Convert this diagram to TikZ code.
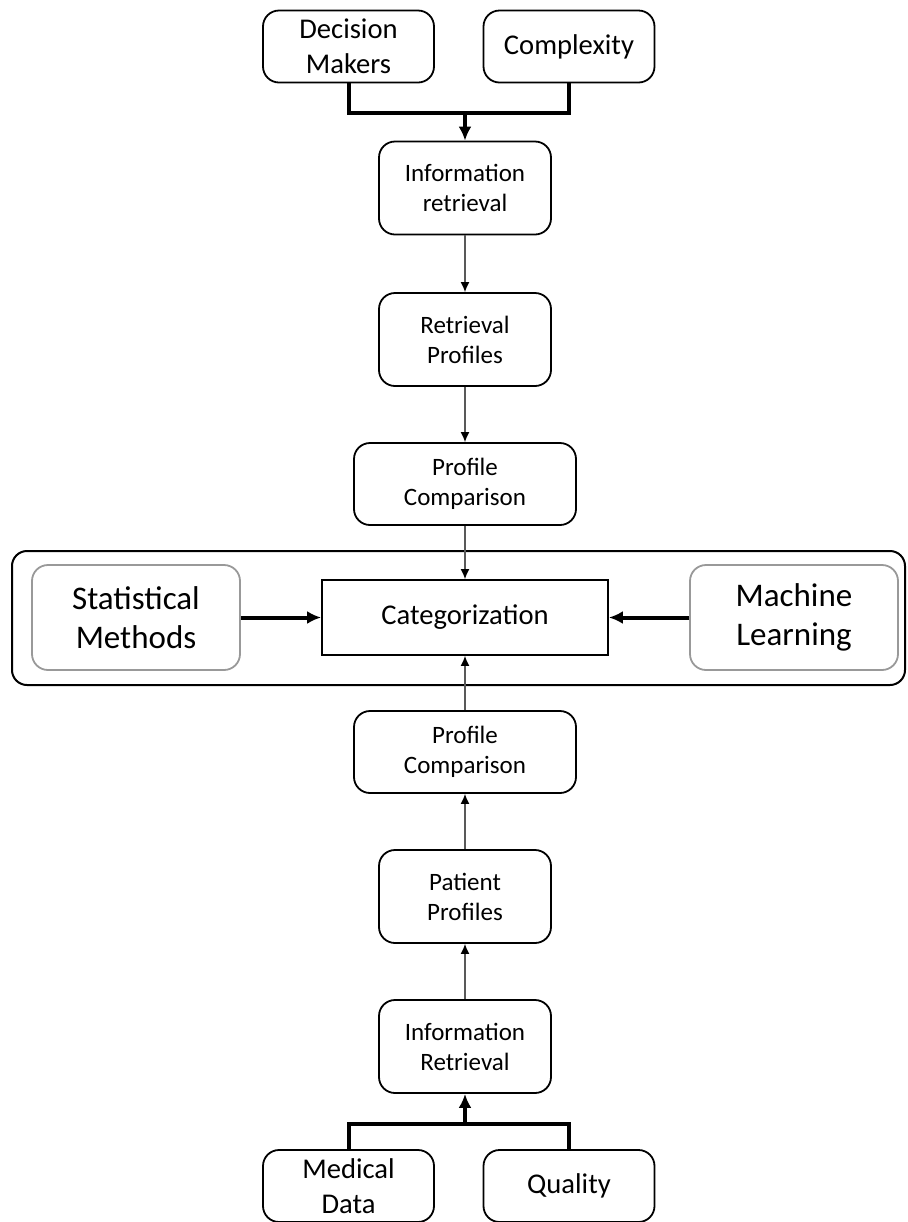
\documentclass[tikz,border=0pt]{standalone}
\usepackage{fontspec}
\setmainfont{Carlito}
\usetikzlibrary{arrows.meta}

\begin{document}
\begin{tikzpicture}[x=0.5pt,y=-0.5pt,
  box/.style={draw,line width=0.9pt,rounded corners=8pt,align=center,inner sep=0pt},
  stagebox/.style={box,minimum width=86pt,minimum height=46.5pt,font=\fontsize{12.5}{15}\selectfont},
  comparebox/.style={box,minimum width=111pt,minimum height=41pt,font=\fontsize{12.5}{15}\selectfont},
  sourcebox/.style={box,minimum width=85.5pt,minimum height=36pt,font=\fontsize{14.3}{17.5}\selectfont},
  methodbox/.style={box,draw=black!40,minimum width=104pt,minimum height=52.5pt,font=\fontsize{16.5}{19.5}\selectfont},
  flow/.style={draw=black!65,line width=0.65pt,-{Latex[length=5pt,width=4.5pt,color=black]}},
  bus/.style={line width=2pt},
  feed/.style={line width=2pt,-{Latex[length=7pt,width=6.5pt]}}]
  \useasboundingbox (0,0) rectangle (908,1222);
  % categorization frame
  \draw[line width=1pt,rounded corners=7.5pt] (12,551) rectangle (905,685);
  % top chain
  \node[sourcebox] (dm) at (348.5,46.5) {Decision\\Makers};
  \node[sourcebox] (cx) at (569,46.5) {Complexity};
  \node[stagebox] (ir1) at (465,188) {Information\\retrieval};
  \node[stagebox] (rp) at (465,339.5) {Retrieval\\Profiles};
  \node[comparebox] (pc1) at (465,484) {Profile\\Comparison};
  % middle row
  \node[methodbox] (sm) at (136,617.5) {Statistical\\Methods};
  \node[draw,line width=0.9pt,minimum width=143pt,minimum height=37.5pt,font=\fontsize{14.3}{17}\selectfont] (cat) at (465,617.5) {Categorization};
  \node[methodbox] (ml) at (794,617.5) {Machine\\Learning};
  % bottom chain
  \node[comparebox] (pc2) at (465,752) {Profile\\Comparison};
  \node[stagebox] (pp) at (465,896.5) {Patient\\Profiles};
  \node[stagebox] (ir2) at (465,1046.5) {Information\\Retrieval};
  \node[sourcebox] (md) at (348.5,1186) {Medical\\Data};
  \node[sourcebox] (q) at (569,1186) {Quality};
  % connectors
  \coordinate (j1) at (465,113);
  \coordinate (j2) at (465,1124);
  \draw[bus] (dm.south) |- (j1) -| (cx.south);
  \draw[feed] (j1) -- (ir1.north);
  \draw[flow] (ir1) -- (rp);
  \draw[flow] (rp) -- (pc1);
  \draw[flow] (pc1) -- (cat);
  \draw[feed] (sm) -- (cat);
  \draw[feed] (ml) -- (cat);
  \draw[flow] (pc2) -- (cat);
  \draw[flow] (pp) -- (pc2);
  \draw[flow] (ir2) -- (pp);
  \draw[bus] (md.north) |- (j2) -| (q.north);
  \draw[feed] (j2) -- (ir2.south);
\end{tikzpicture}
\end{document}
